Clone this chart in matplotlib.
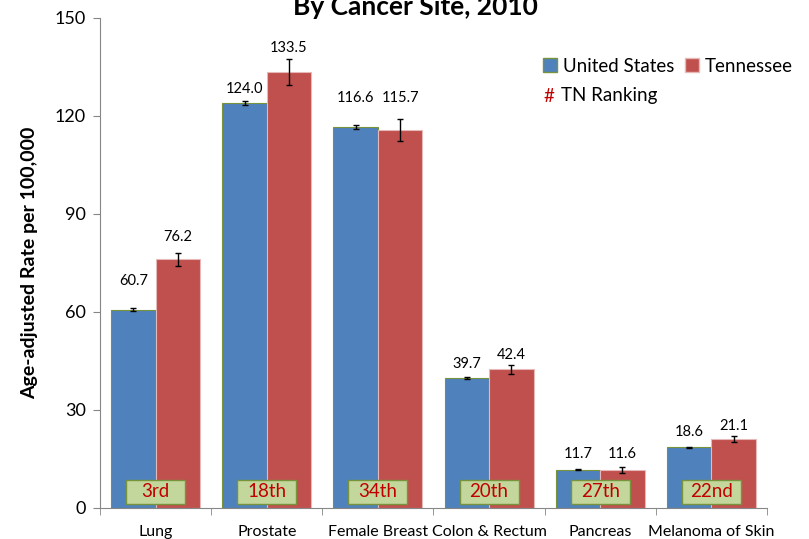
import numpy as np
import matplotlib.pyplot as plt
from matplotlib.patches import Patch, FancyBboxPatch

# data
sites = ['Lung', 'Prostate', 'Female Breast', 'Colon & Rectum', 'Pancreas', 'Melanoma of Skin']
us_rate = [60.7, 124.0, 116.6, 39.7, 11.7, 18.6]
tn_rate = [76.2, 133.5, 115.7, 42.4, 11.6, 21.1]
us_err = [0.4, 0.5, 0.5, 0.3, 0.2, 0.2]
tn_err = [2.0, 4.1, 3.4, 1.5, 0.9, 1.0]
tn_rank = ['3rd', '18th', '34th', '20th', '27th', '22nd']

# label offsets above the bar tops (pixels), as placed in the original
us_lab_off = [29, 14, 29, 14, 16, 15]
tn_lab_off = [22, 24, 32, 14, 16, 13]

plt.rcParams['font.family'] = ['Lato', 'DejaVu Sans']

blue = '#4F81BD'
red = '#C0504D'

fig = plt.figure(figsize=(8.09, 5.39), dpi=100)
ax = fig.add_axes([100/809, 1 - 508/539, 667/809, 490/539])

x = np.arange(len(sites))
w = 0.4
ax.bar(x - w/2, us_rate, w, color=blue, edgecolor='#77933C', linewidth=0.8,
       yerr=us_err, error_kw=dict(ecolor='black', capsize=2.5, elinewidth=1, capthick=1))
ax.bar(x + w/2, tn_rate, w, color=red, edgecolor='#E6B9B8', linewidth=0.8,
       yerr=tn_err, error_kw=dict(ecolor='black', capsize=2.5, elinewidth=1, capthick=1))

for i in range(len(sites)):
    ax.annotate(f'{us_rate[i]:.1f}', (x[i] - w/2, us_rate[i]), xytext=(0, us_lab_off[i] * 0.72),
                textcoords='offset points', ha='center', va='center', fontsize=10.5)
    ax.annotate(f'{tn_rate[i]:.1f}', (x[i] + w/2, tn_rate[i]), xytext=(0, tn_lab_off[i] * 0.72),
                textcoords='offset points', ha='center', va='center', fontsize=10.5)
    box = FancyBboxPatch((x[i] - 0.265, 1.2), 0.53, 7.4, boxstyle='square,pad=0',
                         facecolor='#C3D69B', edgecolor='#77933C', linewidth=1, zorder=3)
    ax.add_patch(box)
    ax.text(x[i], 4.9, tn_rank[i], ha='center', va='center', color='#C00000',
            fontsize=13.5, zorder=4)

ax.set_xlim(-0.5, len(sites) - 0.5)
ax.set_ylim(0, 150)
ax.set_yticks(np.arange(0, 151, 30))
ax.set_xticks(x)
ax.set_xticklabels(sites, fontsize=11.5)
ax.set_xticks(np.arange(-0.5, len(sites), 1), minor=True)
ax.tick_params(axis='x', which='major', length=0, pad=12)
ax.tick_params(axis='x', which='minor', length=5, color='#868686')
ax.tick_params(axis='y', labelsize=13, length=5, color='#868686', pad=5)
for s in ['top', 'right']:
    ax.spines[s].set_visible(False)
for s in ['left', 'bottom']:
    ax.spines[s].set_color('#868686')

ax.set_ylabel('Age-adjusted Rate per 100,000', fontsize=14, fontweight='bold', labelpad=12)

fig.text(415/809, 1 - 15/539, 'By Cancer Site, 2010', ha='center', va='baseline',
         fontsize=19, fontweight='bold')

handles = [Patch(facecolor=blue, edgecolor='#77933C'), Patch(facecolor=red, edgecolor='#E6B9B8')]
fig.legend(handles, ['United States', 'Tennessee'], loc='center left',
           bbox_to_anchor=(543/809, 1 - 66/539), ncol=2, frameon=False, fontsize=13.5,
           handlelength=0.75, handleheight=0.75, handletextpad=0.3, columnspacing=0.6,
           borderaxespad=0, borderpad=0)
fig.text(544/809, 1 - 96/539, '#', color='#C00000', fontsize=13.5, va='center')
fig.text(561/809, 1 - 96/539, 'TN Ranking', fontsize=13.5, va='center')

fig.savefig('out.png', dpi=100)
